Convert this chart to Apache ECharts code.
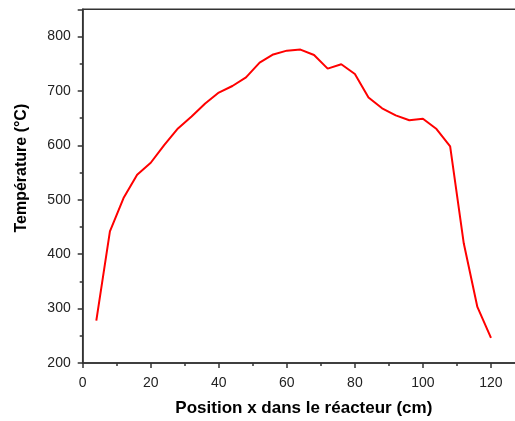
<!DOCTYPE html>
<html>
<head>
<meta charset="utf-8">
<script src="https://cdn.jsdelivr.net/npm/echarts@6/dist/echarts.min.js"></script>
<style>
  html, body { margin: 0; padding: 0; background: #fff; }
  #chart { width: 515px; height: 421px; }
</style>
</head>
<body>
<div id="chart"></div>
<script>
// Temperature profile along the reactor
const positions = [4, 8, 12, 16, 20, 24, 28, 32, 36, 40, 44, 48, 52, 56, 60, 64, 68, 72, 76, 80, 84, 88, 92, 96, 100, 104, 108, 112, 116, 120];
const temperatures = [278, 442, 503, 546, 568, 601, 631, 653, 677, 697, 709, 725, 752, 767, 774, 776, 766, 741, 749, 731, 688, 668, 655, 646, 649, 630, 598, 420, 303, 246];

const xTicks = [0, 20, 40, 60, 80, 100, 120];
const yTicks = [200, 300, 400, 500, 600, 700, 800];

const axisColor = '#333';
const font = 'Liberation Sans, Arial, sans-serif';

const chart = echarts.init(document.getElementById('chart'), null, { renderer: 'canvas' });
chart.setOption({
  animation: false,
  backgroundColor: '#fff',
  grid: {
    left: 82.7, top: 9.3, right: -10, bottom: 58,
    containLabel: false,
    outerBoundsMode: 'none',
    show: true, borderColor: axisColor, borderWidth: 1.5, backgroundColor: 'transparent'
  },
  xAxis: {
    type: 'value',
    min: 0, max: 130, interval: 20,
    name: 'Position x dans le réacteur (cm)',
    nameLocation: 'middle',
    nameGap: 37,
    nameTextStyle: { fontFamily: font, fontSize: 17, fontWeight: 'bold', color: '#000' },
    axisLine: { show: true, lineStyle: { color: axisColor, width: 1.5 } },
    axisTick: { show: true, inside: false, length: 5, lineStyle: { color: axisColor, width: 1.5 } },
    minorTick: { show: true, splitNumber: 2, length: 3, lineStyle: { color: axisColor, width: 1.5 } },
    splitLine: { show: false },
    axisLabel: {
      margin: 13, fontFamily: font, fontSize: 14, color: '#222',
      formatter: v => xTicks.includes(v) ? String(v) : ''
    }
  },
  yAxis: {
    type: 'value',
    min: 200, max: 850, interval: 100,
    name: 'Température (°C)',
    nameLocation: 'middle',
    nameGap: 53,
    nameTextStyle: {
      fontFamily: font, fontSize: 16, fontWeight: 'bold', color: '#000',
      padding: [0, 0, 0, 36]
    },
    axisLine: { show: true, lineStyle: { color: axisColor, width: 1.5 } },
    axisTick: { show: true, inside: false, length: 5, lineStyle: { color: axisColor, width: 1.5 } },
    minorTick: { show: true, splitNumber: 2, length: 3, lineStyle: { color: axisColor, width: 1.5 } },
    splitLine: { show: false },
    axisLabel: {
      margin: 12, fontFamily: font, fontSize: 14, color: '#222',
      formatter: v => yTicks.includes(v) ? String(v) : ''
    }
  },
  series: [{
    type: 'line',
    data: positions.map((x, i) => [x, temperatures[i]]),
    showSymbol: false,
    lineStyle: { color: '#ff0000', width: 2 },
    itemStyle: { color: '#ff0000' }
  }]
});
</script>
</body>
</html>
